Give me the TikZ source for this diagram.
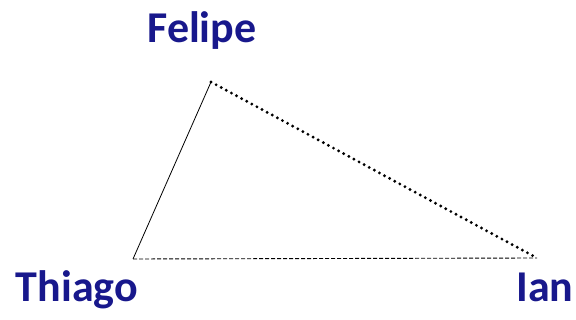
\documentclass[tikz,border=0pt]{standalone}
\usepackage{fontspec}
\setmainfont{Carlito}
\usepackage{tikz}
\usetikzlibrary{positioning}
\definecolor{namblue}{RGB}{24,24,140}

\begin{document}
\begin{tikzpicture}[x=1pt,y=-1pt,
  person/.style={text=namblue,font=\bfseries\fontsize{44}{46}\selectfont,inner sep=0pt,anchor=base},
  solidedge/.style={line width=0.8pt},
  dotedge/.style={line width=3.2pt,line cap=round,dash pattern=on 0pt off 5.8pt},
  dashedge/.style={line width=0.9pt,dash pattern=on 4pt off 2pt}]
  \useasboundingbox (0,0) rectangle (576,320);

  \coordinate (felipe) at (211,82);
  \coordinate (thiago) at (133,259);
  \coordinate (ian) at (537,258);

  \node[person] (lfelipe) at (202,43) {Felipe};
  \node[person] (lthiago) at (77,302) {Thiago};
  \node[person] (lian) at (545,302) {Ian};

  \draw[solidedge] (thiago) -- (felipe);
  \draw[dotedge] (felipe) -- (ian);
  \draw[dashedge] (thiago) -- (ian);
\end{tikzpicture}
\end{document}
